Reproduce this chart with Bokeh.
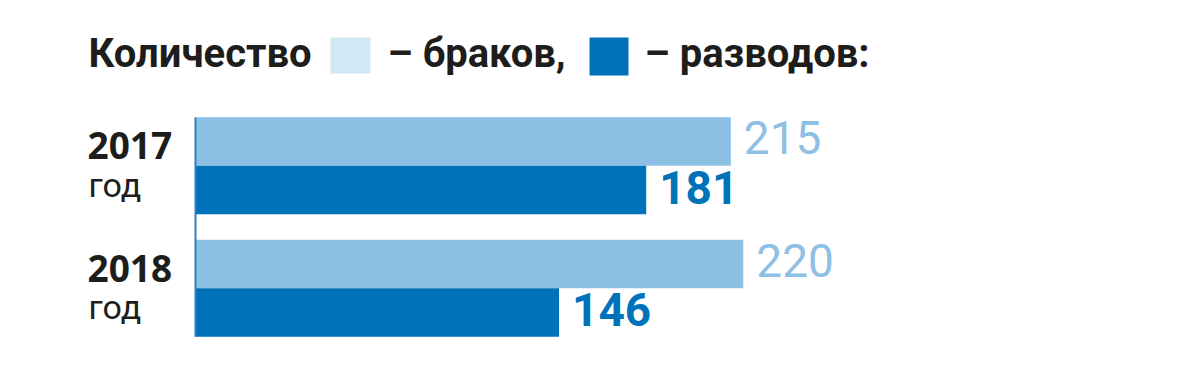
from bokeh.plotting import figure
from bokeh.models import Range1d, Label, BoxAnnotation, ColumnDataSource
from bokeh.core.properties import value
from bokeh.embed import file_html
from bokeh.resources import INLINE

# ---- data ----
years = ["2017", "2018"]
year_word = "год"
marriages = [215, 220]
divorces = [181, 146]
title_parts = ["Количество", "– браков,", "– разводов:"]

# ---- style ----
LIGHT = "#8ec0e6"
DARK = "#0072b9"
SWATCH_LIGHT = "#d3e8f6"
AXIS = "#2f7fc1"
TEXT = "#1d1d1b"
FONT = "Roboto"

W, H = 1184, 355
X0 = 195.0      # pixel position of zero
PX_PER = 2.49   # pixels per unit

p = figure(width=W, height=H,
           x_range=Range1d(-X0 / PX_PER, (W - X0) / PX_PER),
           y_range=Range1d(H, 0),
           output_backend="svg", toolbar_location=None,
           x_axis_location=None, y_axis_location=None,
           min_border=0)
p.grid.visible = False
p.outline_line_color = None
p.background_fill_color = "white"

pitch = 122.5
first = 141.0
bh = 48.5
light_y = [first + i * pitch for i in range(len(years))]
dark_y = [y + bh for y in light_y]

src_m = ColumnDataSource(dict(y=light_y, v=marriages, t=[str(v) for v in marriages]))
src_d = ColumnDataSource(dict(y=dark_y, v=divorces, t=[str(v) for v in divorces]))

p.hbar(y="y", left=0, right="v", height=bh, source=src_m, fill_color=LIGHT, line_color=None)
p.hbar(y="y", left=0, right="v", height=bh, source=src_d, fill_color=DARK, line_color=None)

p.segment(x0=[0], y0=[light_y[0] - bh / 2], x1=[0], y1=[dark_y[-1] + bh / 2],
          line_color=AXIS, line_width=2)

p.text(x="v", y="y", text="t", source=src_m, x_offset=13, y_offset=-4,
       text_baseline="alphabetic", text_align="left",
       text_font=value(FONT), text_font_size="46px", text_color=LIGHT)
p.text(x="v", y="y", text="t", source=src_d, x_offset=13, y_offset=-3,
       text_baseline="alphabetic", text_align="left",
       text_font=value(FONT), text_font_size="46px", text_font_style="bold",
       text_color=DARK)

# year labels
for i, yr in enumerate(years):
    base = light_y[i]
    p.add_layout(Label(x=87, x_units="screen", y=base + 4, y_units="data",
                       text=yr, text_font="Open Sans", text_font_style="bold",
                       text_font_size="37px", text_color=TEXT,
                       text_baseline="alphabetic"))
    p.add_layout(Label(x=88, x_units="screen", y=base + 43, y_units="data",
                       text=year_word, text_font=FONT,
                       text_font_size="34px", text_color=TEXT,
                       text_baseline="alphabetic"))

# title with legend swatches
title_y = 53
p.add_layout(Label(x=88, x_units="screen", y=title_y, y_units="data",
                   text=title_parts[0], text_font=FONT, text_font_style="bold",
                   text_font_size="40px", text_color=TEXT, text_baseline="alphabetic"))
p.add_layout(BoxAnnotation(left=330, right=370, left_units="screen", right_units="screen",
                           top=37, bottom=73, fill_color=SWATCH_LIGHT, fill_alpha=1,
                           line_color=None))
p.add_layout(Label(x=387, x_units="screen", y=title_y, y_units="data",
                   text=title_parts[1], text_font=FONT, text_font_style="bold",
                   text_font_size="40px", text_color=TEXT, text_baseline="alphabetic"))
p.add_layout(BoxAnnotation(left=589, right=628, left_units="screen", right_units="screen",
                           top=37, bottom=75, fill_color=DARK, fill_alpha=1,
                           line_color=None))
p.add_layout(Label(x=644, x_units="screen", y=title_y, y_units="data",
                   text=title_parts[2], text_font=FONT, text_font_style="bold",
                   text_font_size="40px", text_color=TEXT, text_baseline="alphabetic"))

open("out.html", "w").write(file_html(p, INLINE))
